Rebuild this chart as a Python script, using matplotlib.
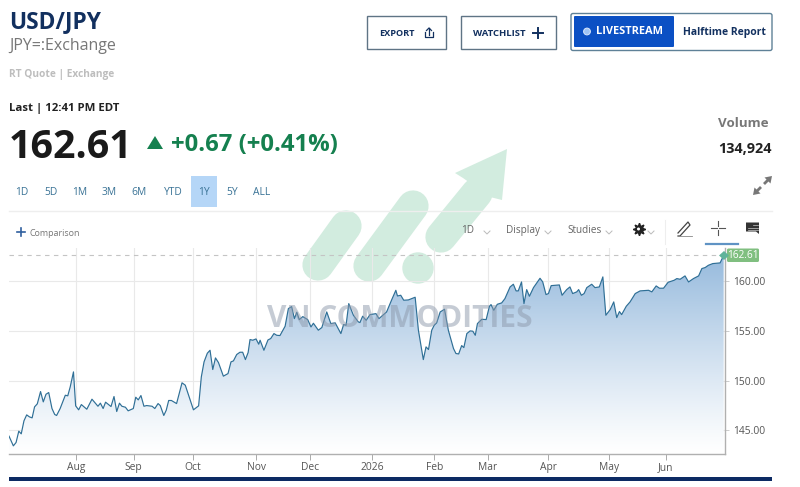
import numpy as np
import matplotlib
matplotlib.use("Agg")
import matplotlib.pyplot as plt
from matplotlib.patches import Rectangle, FancyBboxPatch, Polygon, Circle

plt.rcParams["font.family"] = ["Open Sans", "DejaVu Sans"]

# trading session number and quote (turning points only)
sessions = [
    0.0, 1.6, 2.6, 3.6, 4.5, 5.5, 6.5, 7.5, 8.5, 9.4, 10.4, 11.6, 12.6, 13.6, 14.6, 15.8, 16.8, 17.5, 18.8,
    20.7, 21.6, 22.5, 23.7, 24.5, 25.6, 26.6, 28.6, 30.5, 32.7, 33.6, 34.6, 35.5, 37.5, 38.6, 39.6, 40.6,
    41.5, 42.8, 43.8, 45.7, 46.6, 47.5, 48.5, 49.6, 50.6, 52.6, 53.6, 54.8, 55.6, 56.9, 57.8, 58.7, 59.7,
    61.6, 63.6, 64.8, 67.8, 69.7, 70.7, 71.7, 72.9, 73.9, 74.9, 75.9, 77.0, 78.8, 80.5, 81.6, 82.5, 83.7,
    84.9, 85.9, 86.9, 87.9, 88.6, 89.6, 90.8, 91.8, 92.3, 93.7, 95.2, 96.2, 97.4, 98.4, 99.6, 101.5, 102.7,
    103.9, 104.9, 105.8, 106.7, 108.0, 109.8, 111.0, 111.9, 113.7, 115.0, 116.8, 118.3, 119.9, 122.0, 123.0,
    123.9, 124.9, 126.6, 128.4, 129.0, 130.0, 131.3, 132.7, 134.9, 136.0, 138.8, 140.7, 142.2, 142.8, 144.0,
    145.1, 146.8, 149.3, 150.5, 152.3, 153.3, 154.2, 155.4, 156.3, 157.2, 158.5, 160.1, 161.5, 163.4, 164.3,
    165.3, 166.4, 167.2, 168.3, 169.5, 170.5, 171.4, 172.2, 173.8, 175.4, 176.6, 177.2, 178.2, 179.5, 181.1,
    182.3, 184.2, 185.4, 186.4, 187.2, 188.4, 189.3, 190.3, 191.3, 192.8, 194.0, 195.2, 196.2, 197.4, 198.3,
    199.3, 200.8, 202.3, 203.3, 205.0, 206.2, 207.2, 208.7, 209.4, 210.4, 211.4, 212.4, 214.2, 215.4, 217.0,
    218.3, 219.4, 221.0, 222.3, 223.4, 224.4, 225.2, 226.9, 228.3, 230.2, 232.0, 235.1, 236.3, 237.9, 239.1,
    240.6, 242.3, 244.5, 245.5, 246.7, 248.5, 249.8, 251.6, 253.5, 254.7, 255.9, 257.1, 258.7, 261.4, 262.7,
]
quotes = [
    144.40, 143.42, 143.76, 144.90, 144.63, 145.94, 146.54, 146.34, 146.24, 147.35, 147.65, 148.89, 147.85,
    148.62, 148.79, 147.18, 146.58, 146.48, 147.18, 148.52, 148.46, 149.36, 150.87, 147.45, 147.05, 147.58,
    147.11, 148.12, 147.41, 147.72, 147.18, 147.82, 147.38, 148.39, 146.88, 147.72, 147.41, 147.31, 146.95,
    147.18, 148.32, 148.05, 148.49, 147.41, 147.48, 147.41, 147.18, 147.68, 147.48, 146.48, 147.01, 147.99,
    147.99, 147.68, 149.77, 149.53, 147.05, 147.45, 150.37, 151.88, 152.75, 153.05, 151.11, 152.28, 151.81,
    150.44, 150.70, 151.88, 151.98, 152.62, 152.85, 152.85, 152.11, 152.82, 154.13, 154.06, 154.19, 153.66,
    154.06, 153.05, 154.09, 154.23, 154.73, 154.56, 154.53, 155.47, 157.25, 157.45, 156.24, 156.88, 156.14,
    156.44, 156.14, 155.40, 155.77, 155.07, 155.34, 156.91, 155.74, 155.81, 154.73, 155.64, 155.57, 157.75,
    156.58, 155.91, 155.84, 156.48, 156.07, 156.64, 156.74, 156.24, 156.91, 158.15, 159.09, 158.52, 158.59,
    158.09, 158.12, 158.39, 155.07, 152.11, 153.39, 153.12, 155.07, 155.57, 155.81, 156.91, 157.18, 155.07,
    153.22, 152.72, 152.68, 153.52, 153.32, 154.73, 155.00, 154.97, 154.56, 155.74, 156.17, 156.14, 157.48,
    157.65, 157.08, 157.68, 157.82, 158.25, 159.43, 159.70, 159.03, 159.03, 159.93, 157.75, 159.16, 158.49,
    159.36, 159.83, 160.30, 159.93, 158.66, 158.76, 159.56, 159.60, 159.63, 158.59, 159.16, 159.43, 158.76,
    158.93, 159.16, 158.59, 158.76, 159.36, 159.70, 159.36, 159.43, 160.44, 156.58, 157.15, 157.92, 156.34,
    156.95, 156.64, 157.48, 157.92, 158.76, 159.03, 159.09, 158.93, 159.53, 159.30, 159.30, 159.90, 160.10,
    160.27, 160.20, 160.54, 159.93, 160.27, 160.54, 161.28, 161.38, 161.61, 161.78, 161.85, 162.61,
]
month_ticks = [24.6, 45.8, 67.6, 90.8, 110.7, 133.5, 156.3, 176.1, 198.2, 220.6, 241.5]
month_labels = ["Aug", "Sep", "Oct", "Nov", "Dec", "2026", "Feb", "Mar", "Apr", "May", "Jun"]
price_ticks = [145, 150, 155, 160]
last_price = 162.61
ranges = ["1D", "5D", "1M", "3M", "6M", "YTD", "1Y", "5Y", "ALL"]
range_x = [22, 51, 80, 109, 139, 173, 204, 232, 262]

W, H = 800, 487
fig = plt.figure(figsize=(W / 100, H / 100), dpi=100)

# chart axes
ax = fig.add_axes([9 / W, 1 - 454 / H, 716 / W, 206 / H], facecolor="none")
ymin, ymax = 142.6, 163.35
ax.set_xticks(month_ticks)
ax.set_xticklabels(month_labels, fontsize=7.4, color="#555555")
ax.yaxis.tick_right()
ax.set_yticks(price_ticks)
ax.set_yticklabels([f"{p:.2f}" for p in price_ticks], fontsize=7.4, color="#555555")
ax.tick_params(axis="x", length=4, width=0.7, color="#aaaaaa", pad=1.5)
ax.tick_params(axis="y", length=3, width=0.7, color="#cccccc", pad=3)
ax.grid(True, color="#e9e9e9", lw=0.8)
ax.set_axisbelow(True)
for s in ["top", "left"]:
    ax.spines[s].set_visible(False)
for s in ["bottom", "right"]:
    ax.spines[s].set_color("#b0b0b0")
    ax.spines[s].set_linewidth(1)

# gradient under the line
top_col = np.array([150, 186, 221]) / 255
grad = np.linspace(0, 1, 256)[:, None, None] ** 1.15 * (top_col - 1) + 1
img = ax.imshow(grad, origin="lower", aspect="auto", extent=[0, 263.2, ymin, last_price], zorder=1.5)
poly = Polygon(list(zip(sessions, quotes)) + [(sessions[-1], ymin), (sessions[0], ymin)],
               closed=True, transform=ax.transData, fc="none", ec="none")
ax.add_patch(poly)
img.set_clip_path(poly)
ax.set_xlim(0, 263.2)
ax.set_ylim(ymin, ymax)

ax.plot(sessions, quotes, color="#2f6f96", lw=0.85, zorder=3)
ax.axhline(last_price, color="#c4c4c4", lw=0.8, dashes=(4, 4), zorder=2)

# page furniture, in pixel coordinates of the screenshot
ui = fig.add_axes([0, 0, 1, 1], facecolor="none", zorder=-1)
ui.set_xlim(0, W)
ui.set_ylim(H, 0)
ui.axis("off")
top = fig.add_axes([0, 0, 1, 1], facecolor="none", zorder=5)
top.set_xlim(0, W)
top.set_ylim(H, 0)
top.axis("off")

navy = "#12305f"


def txt(x, y, s, size, color="#222222", weight="normal", ha="left", **kw):
    # va=center sits a little high for this font, push it down with the size
    top.text(x, y + size * 0.11, s, fontsize=size, color=color, fontweight=weight, ha=ha, va="center", **kw)


# watermark
mint = "#d2ecdf"
for (x0, y0, x1, y1) in [(318, 265, 346, 226), (369, 266, 413, 206), (441, 237, 477, 193)]:
    ui.plot([x0, x1], [y0, y1], color=mint, lw=22.5, solid_capstyle="round")
ui.add_patch(Circle((418, 268), 15.7, fc=mint, ec="none"))
ui.add_patch(Polygon([(507, 149), (455, 173), (463, 178), (490, 197), (502, 200)], closed=True, fc=mint, ec="none"))
txt(400, 316.5, "VN COMMODITIES", 21.5, color="#8d99ab", weight="bold", ha="center", alpha=0.5)

# header
txt(9, 20, "USD/JPY", 16.4, color=navy, weight="bold")
txt(9, 45, "JPY=:Exchange", 11.5, color="#777777")
txt(9, 73.5, "RT Quote | Exchange", 7.3, color="#bdbdbd", weight="bold")
txt(9, 107.5, "Last | 12:41 PM EDT", 8.2, color="#222222", weight="bold")
txt(9, 144, "162.61", 28.4, color="#1a1a1a", weight="bold")
top.add_patch(Polygon([(147, 149), (163, 149), (155, 136)], closed=True, fc="#15804f", ec="none"))
txt(171, 143.5, "+0.67 (+0.41%)", 17.2, color="#15804f", weight="bold")

# buttons
for x0, x1 in [(366.5, 446), (460.5, 555.5)]:
    top.add_patch(Rectangle((x0, 15.5), x1 - x0, 33, fc="white", ec="#5f7485", lw=1))
txt(379, 32.5, "EXPORT", 6.6, color=navy, weight="bold")
top.plot([425, 425, 433, 433], [32, 37, 37, 32], color=navy, lw=0.9)
top.plot([429, 429], [28, 35], color=navy, lw=0.9)
top.plot([426.5, 429, 431.5], [30.5, 28, 30.5], color=navy, lw=0.9)
txt(473, 32.5, "WATCHLIST", 6.8, color=navy, weight="bold")
top.plot([533, 543], [32.5, 32.5], color=navy, lw=1.4)
top.plot([538, 538], [27.5, 37.5], color=navy, lw=1.4)
top.add_patch(FancyBboxPatch((571, 13.5), 201, 37, boxstyle="round,pad=0,rounding_size=2", fc="white", ec="#5f8197", lw=1))
top.add_patch(FancyBboxPatch((574, 16), 100, 31, boxstyle="round,pad=0,rounding_size=1", fc="#0b50c4", ec="none"))
top.add_patch(Circle((587, 31.5), 3.4, fc="#9fc4f5", ec="#dbe8fb", lw=0.7))
txt(596, 31, "LIVESTREAM", 7.9, color="white", weight="bold")
txt(683, 31.5, "Halftime Report", 7.5, color=navy, weight="bold")

txt(769, 122, "Volume", 9.6, color="#777777", weight="bold", ha="right")
txt(772, 147.5, "134,924", 10.4, color="#222222", weight="bold", ha="right")

# expand arrows
top.plot([755, 761], [193, 187], color="#777777", lw=2, solid_capstyle="butt")
top.plot([764, 770], [184, 178], color="#777777", lw=2, solid_capstyle="butt")
top.add_patch(Polygon([(772, 176), (764.5, 177.5), (770.5, 183.5)], closed=True, fc="#777777", ec="none"))
top.add_patch(Polygon([(753, 195), (760.5, 193.5), (754.5, 187.5)], closed=True, fc="#777777", ec="none"))

# range selector
ui.add_patch(Rectangle((191, 176), 26, 31, fc="#b5d6f7", ec="none"))
for x, r in zip(range_x, ranges):
    txt(x, 191.5, r, 7.4, color="#3a7396", ha="center")
ui.plot([9, 772], [211, 211], color="#eeeeee", lw=1)

# toolbar
top.plot([17, 25], [232, 232], color="#2f5f9e", lw=1.2)
top.plot([21, 21], [228, 236], color="#2f5f9e", lw=1.2)
txt(30, 232.5, "Comparison", 6.4, color="#777777")
txt(461, 229.5, "1D", 7.2, color="#666666")
txt(506, 229.5, "Display", 7.2, color="#666666")
txt(567, 229.5, "Studies", 7.2, color="#666666")
for x in [487, 548, 609, 651]:
    top.plot([x - 3, x, x + 3], [231, 234, 231], color="#bbbbbb", lw=0.7)
top.plot([638.5], [229], marker=(8, 1, 0), ms=9, color="#222222", ls="none")
top.add_patch(Circle((638.5, 229), 1.5, fc="white", ec="none", zorder=4))
top.plot([664.5, 664.5], [220, 244], color="#eeeeee", lw=0.8)
top.plot([678, 680, 690, 688, 678], [236, 236, 225, 222, 233], color="#444444", lw=0.9)
top.plot([678, 692], [236, 236], color="#888888", lw=0.6)
top.plot([711, 717], [228, 228], color="#555555", lw=0.8)
top.plot([719, 725], [228, 228], color="#555555", lw=0.8)
top.plot([718, 718], [221, 226], color="#555555", lw=0.8)
top.plot([718, 718], [230, 235], color="#555555", lw=0.8)
top.plot([706, 738], [243.5, 243.5], color="#5f93c4", lw=1.6)
top.add_patch(Polygon([(746, 222.5), (759, 222.5), (759, 234), (756, 231.5), (746, 231.5)], closed=True, fc="#333333", ec="none"))
top.plot([753, 757.5], [225, 225], color="#cccccc", lw=0.5)
top.plot([748, 757.5], [227.5, 227.5], color="#cccccc", lw=0.5)
top.plot([748, 757.5], [229.5, 229.5], color="#cccccc", lw=0.5)

# last price tag on the axis
top.add_patch(FancyBboxPatch((727, 248.5), 32, 13.5, boxstyle="round,pad=0,rounding_size=1.5", fc="#80bf80", ec="none"))
top.add_patch(Polygon([(719, 255.5), (724, 251), (729, 255.5), (724, 260)], closed=True, fc="#5fb39a", ec="none"))
txt(742.5, 255, "162.61", 7.2, color="white", ha="center")

# bottom band
top.add_patch(Rectangle((9, 477), 763, 4, fc="#0c2a63", ec="none"))

fig.savefig("out.png", dpi=100)
